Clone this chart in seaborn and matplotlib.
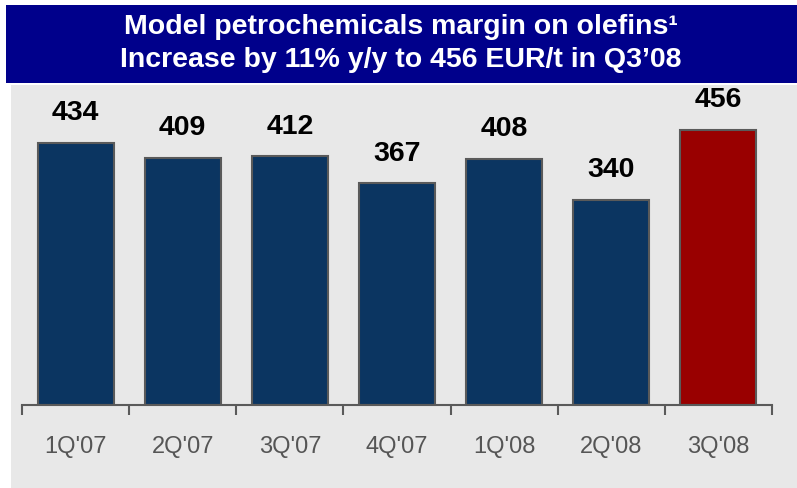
import matplotlib
matplotlib.use("Agg")
import matplotlib.pyplot as plt
import seaborn as sns
import pandas as pd
from matplotlib.patches import Rectangle

quarters = ["1Q'07", "2Q'07", "3Q'07", "4Q'07", "1Q'08", "2Q'08", "3Q'08"]
margins = [434, 409, 412, 367, 408, 340, 456]
bar_colors = ["#0b3561"] * 6 + ["#990000"]
title_lines = ["Model petrochemicals margin on olefins¹",
               "Increase by 11% y/y to 456 EUR/t in Q3\u201908"]

sns.set_style("white")
plt.rcParams["font.family"] = ["Liberation Sans", "DejaVu Sans"]

W, H = 797, 488
fig = plt.figure(figsize=(W / 100, H / 100), dpi=100)
fig.patch.set_facecolor("white")

# blue title banner and gray panel
fig.patches.append(Rectangle((6 / W, 1 - 83 / H), 791 / W, 78 / H,
                             transform=fig.transFigure, facecolor="#00008b",
                             edgecolor="none", zorder=-2))
fig.patches.append(Rectangle((11 / W, 0), 786 / W, 1 - 85 / H,
                             transform=fig.transFigure, facecolor="#e8e8e8",
                             edgecolor="none", zorder=-2))
fig.text(401 / W, 1 - 27 / H, title_lines[0], color="white", fontsize=20.5,
         fontweight="bold", ha="center", va="center")
fig.text(401 / W, 1 - 60 / H, title_lines[1], color="white", fontsize=20.5,
         fontweight="bold", ha="center", va="center")

ax = fig.add_axes([22 / W, 83 / H, 750 / W, 320 / H])
ax.patch.set_visible(False)

df = pd.DataFrame({"quarter": quarters, "margin": margins})
sns.barplot(data=df, x="quarter", y="margin", hue="quarter",
            palette=bar_colors, width=0.71, legend=False, ax=ax,
            edgecolor="#5a5a5a", linewidth=1.5, saturation=1)

for c in ax.containers:
    ax.bar_label(c, padding=12, fontsize=20.5, fontweight="bold", color="black")

ax.set_xlim(-0.5, len(quarters) - 0.5)
ax.set_ylim(0, 530)
ax.set_xlabel("")
ax.set_ylabel("")
ax.set_yticks([])
for s in ["top", "right", "left"]:
    ax.spines[s].set_visible(False)
ax.spines["bottom"].set_color("#5a5a5a")
ax.spines["bottom"].set_linewidth(1.5)

ax.set_xticks([i - 0.5 for i in range(len(quarters) + 1)], minor=True)
ax.tick_params(axis="x", which="minor", bottom=True, length=7, width=1.5,
               color="#5a5a5a", direction="out")
ax.tick_params(axis="x", which="major", length=0, pad=22,
               labelsize=17, labelcolor="#555555")

fig.savefig("out.png", dpi=100)
